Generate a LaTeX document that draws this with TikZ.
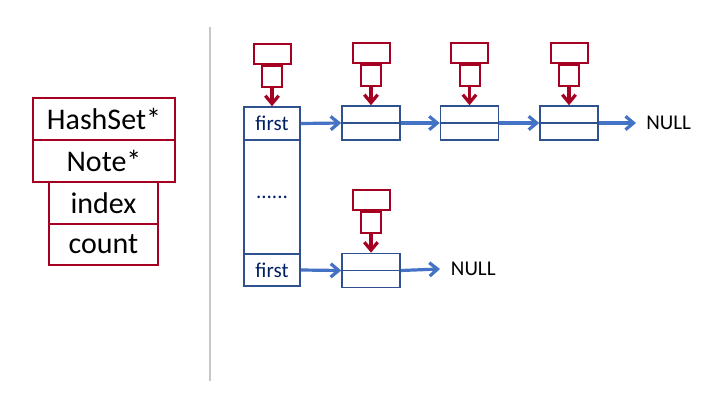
\documentclass[tikz,border=0pt]{standalone}
\usepackage{fontspec}
\setmainfont{Carlito}
\usetikzlibrary{arrows.meta, positioning}
\definecolor{hsred}{RGB}{165,0,33}
\definecolor{nodeblue}{RGB}{47,82,143}
\definecolor{linkblue}{RGB}{68,114,196}
\definecolor{navytext}{RGB}{0,32,96}

\begin{document}
\begin{tikzpicture}[
    x=0.75pt, y=-0.75pt,
    field/.style={rectangle, draw=hsred, line width=1.5pt, minimum width=106.5pt, minimum height=31.5pt, inner sep=0pt, font=\fontsize{22.5}{26}\selectfont},
    subfield/.style={field, minimum width=81.75pt, minimum height=31pt},
    slot/.style={rectangle, draw=nodeblue, line width=1.2pt, minimum width=42pt, inner sep=0pt, text=navytext, font=\fontsize{15.75}{18}\selectfont},
    elem/.style={rectangle, draw=nodeblue, line width=1.2pt, minimum width=43.5pt, minimum height=25.5pt, inner sep=0pt},
    ptrhead/.style={rectangle, draw=hsred, line width=1.5pt, minimum width=27.75pt, minimum height=15pt, inner sep=0pt},
    ptrstem/.style={rectangle, draw=hsred, line width=1.5pt, minimum width=15pt, minimum height=15.75pt, inner sep=0pt},
    ptrarrow/.style={draw=hsred, line width=2.4pt, -{Straight Barb[length=6pt, width=10pt]}},
    link/.style={draw=linkblue, line width=2.4pt, -{Straight Barb[length=6pt, width=10pt]}},
    nulltext/.style={inner xsep=7.5pt, inner ysep=0pt, anchor=west, font=\fontsize{15.75}{18}\selectfont},
]
    \useasboundingbox (0,0) rectangle (712,407);

    % struct fields
    \node[field] (hs) at (104,119) {HashSet*};
    \node[field] (note) at (104,161) {Note*};
    \node[subfield] (idx) at (103.5,203) {index};
    \node[subfield] (cnt) at (103.5,244.5) {count};

    % separator
    \draw[black!22, line width=0.8pt] (210,27) -- (210,381);

    % bucket array
    \node[slot, minimum height=24.75pt] (f1) at (272,123.5) {first};
    \node[slot, minimum height=85.5pt] (dots) at (272,197) {......};
    \node[slot, minimum height=24pt] (f2) at (272,270) {first};

    % list elements
    \node[elem] (n1) at (371,123) {};
    \node[elem] (n2) at (469.5,123) {};
    \node[elem] (n3) at (569,123) {};
    \node[elem] (m1) at (371,270.5) {};
    \foreach \n in {n1,n2,n3,m1}
        \draw[nodeblue, line width=1.2pt] (\n.west) -- (\n.east);

    \node[nulltext] (null1) at (636,123) {NULL};
    \node[nulltext, inner xsep=8pt] (null2) at (440,269) {NULL};

    % pointer glyphs
    \foreach \t in {f1,n1,n2,n3,m1} {
        \node[ptrstem, above=14pt of \t] (\t s) {};
        \node[ptrhead, above=0pt of \t s] (\t h) {};
        \draw[ptrarrow] (\t s.south) -- (\t.north);
    }

    % links
    \draw[link] (f1.east) -- (n1.west);
    \draw[link] (n1.east) -- (n2.west);
    \draw[link] (n2.east) -- (n3.west);
    \draw[link] (n3.east) -- (null1.west);
    \draw[link] (f2.east) -- (m1.west);
    \draw[link] (m1.east) -- (null2.west);
\end{tikzpicture}
\end{document}
